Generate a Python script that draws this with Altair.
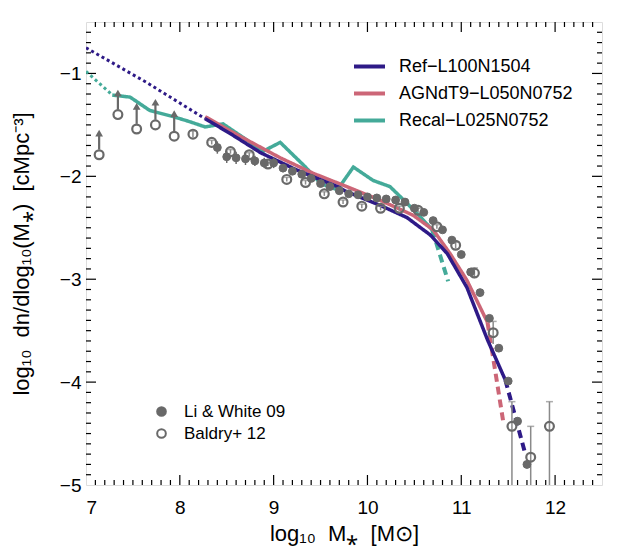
import altair as alt
import pandas as pd

# ---------------- data ----------------
sim_names = ["Ref\u2212L100N1504", "AGNdT9\u2212L050N0752", "Recal\u2212L025N0752"]
sim_colors = ["#2E1A87", "#CC6677", "#44AA99"]

# Ref-L100N1504
ref_low_x = [7.0, 7.65, 8.27]
ref_low_y = [-0.75, -1.09, -1.44]
ref_x = [8.27, 8.53, 8.86, 9.25, 9.68, 9.78, 10.13, 10.42, 10.67, 10.85, 11.06, 11.28, 11.47]
ref_y = [-1.44, -1.58, -1.77, -1.94, -2.10, -2.15, -2.28, -2.40, -2.57, -2.75, -3.08, -3.59, -3.98]
ref_high_x = [11.47, 11.68]
ref_high_y = [-3.98, -4.69]

# AGNdT9-L050N0752
agn_x = [8.27, 8.60, 9.07, 9.42, 9.78, 10.13, 10.49, 10.70, 10.88, 11.06, 11.28]
agn_y = [-1.42, -1.59, -1.82, -1.97, -2.10, -2.23, -2.38, -2.52, -2.75, -3.01, -3.42]
agn_high_x = [11.28, 11.45]
agn_high_y = [-3.42, -4.40]

# Recal-L025N0752
rec_low_x = [7.0, 7.28]
rec_low_y = [-0.98, -1.21]
rec_x = [7.28, 7.47, 7.68, 7.93, 8.11, 8.27, 8.46, 8.72, 8.88, 9.07, 9.34, 9.50,
         9.68, 9.85, 10.06, 10.24, 10.42, 10.56, 10.69]
rec_y = [-1.21, -1.23, -1.36, -1.42, -1.47, -1.52, -1.49, -1.65, -1.76, -1.67, -1.91, -2.07,
         -2.13, -1.91, -2.04, -2.10, -2.26, -2.39, -2.52]
rec_high_x = [10.69, 10.86]
rec_high_y = [-2.52, -3.02]

# Li & White 09 (filled)
li_x = [8.4, 8.5, 8.6, 8.7, 8.8, 8.9, 9.0, 9.1, 9.2, 9.3, 9.4, 9.5, 9.6, 9.7, 9.8, 9.9,
        10.0, 10.1, 10.2, 10.3, 10.4, 10.5, 10.6, 10.7, 10.8, 10.9, 11.0, 11.1, 11.2,
        11.3, 11.4, 11.5, 11.6, 11.7]
li_y = [-1.72, -1.81, -1.82, -1.83, -1.85, -1.87, -1.87, -1.92, -1.95, -1.98, -2.02, -2.07,
        -2.10, -2.14, -2.17, -2.18, -2.20, -2.21, -2.22, -2.23, -2.25, -2.31, -2.35, -2.43,
        -2.52, -2.62, -2.76, -2.93, -3.13, -3.38, -3.67, -3.99, -4.38, -4.80]
li_err = [0.06, 0.06, 0.06, 0.06, 0.05, 0.05, 0.05, 0.04, 0.03, 0.03, 0.02, 0.02,
          0.02, 0.02, 0.02, 0.02, 0.02, 0.02, 0.02, 0.02, 0.02, 0.02, 0.02, 0.02,
          0.02, 0.02, 0.02, 0.02, 0.02, 0.02, 0.02, 0.02, 0.03, 0.04]

# Baldry+ 12 (open)
bal_x = [7.14, 7.34, 7.54, 7.74, 7.94, 8.14, 8.34, 8.54, 8.74, 8.94, 9.14, 9.34, 9.54,
         9.74, 9.94, 10.14, 10.34, 10.54, 10.74, 10.94, 11.14, 11.34, 11.54, 11.74, 11.94]
bal_y = [-1.79, -1.40, -1.54, -1.50, -1.61, -1.59, -1.67, -1.76, -1.79, -1.88, -2.03, -2.06,
         -2.17, -2.25, -2.29, -2.31, -2.31, -2.33, -2.49, -2.67, -2.94, -3.52, -4.43, -4.73, -4.43]
bal_err_lo = [0, 0, 0, 0, 0, 0.03, 0.02, 0.02, 0.02, 0.02, 0.02, 0.02, 0.02,
              0.02, 0.02, 0.02, 0.02, 0.02, 0.02, 0.03, 0.05, 0.11, 0.8, 0.8, 0.8]
bal_err_hi = [0, 0, 0, 0, 0, 0.03, 0.02, 0.02, 0.02, 0.02, 0.02, 0.02, 0.02,
              0.02, 0.02, 0.02, 0.02, 0.02, 0.02, 0.03, 0.05, 0.11, 0.24, 0.30, 0.24]
# lower limits (arrows) for the five lowest-mass Baldry points
lim_x = [7.14, 7.34, 7.54, 7.74, 7.94]
lim_y = [-1.79, -1.40, -1.54, -1.50, -1.61]
lim_top = [-1.58, -1.19, -1.32, -1.28, -1.39]

obs_names = ["Li & White 09", "Baldry+ 12"]

x_ticks = [7, 8, 9, 10, 11, 12]
y_ticks = [-5, -4, -3, -2, -1]
x_minor = [round(7 + 0.1 * i, 1) for i in range(1, 55) if i % 10]
x_major = [8, 9, 10, 11, 12]
y_minor = [round(-5 + 0.1 * i, 1) for i in range(1, 45) if i % 10]
y_major = [-4, -3, -2, -1]

x_title = "log\u2081\u2080\u00a0 M\u204e\u00a0 [M\u2299]"
y_title = "log\u2081\u2080\u00a0 dn/dlog\u2081\u2080(M\u204e)\u00a0 [cMpc\u207b\u00b3]"

# ---------------- build tables ----------------
def seg_df(xs, ys, name, seg):
    return pd.DataFrame({"x": xs, "y": ys, "sim": name, "seg": seg})

ref_df = pd.concat([seg_df(ref_low_x, ref_low_y, sim_names[0], "low"),
                    seg_df(ref_x, ref_y, sim_names[0], "mid"),
                    seg_df(ref_high_x, ref_high_y, sim_names[0], "high")])
agn_df = pd.concat([seg_df(agn_x, agn_y, sim_names[1], "mid"),
                    seg_df(agn_high_x, agn_high_y, sim_names[1], "high")])
rec_df = pd.concat([seg_df(rec_low_x, rec_low_y, sim_names[2], "low"),
                    seg_df(rec_x, rec_y, sim_names[2], "mid"),
                    seg_df(rec_high_x, rec_high_y, sim_names[2], "high")])

li_df = pd.DataFrame({"x": li_x, "y": li_y,
                      "lo": [a - e for a, e in zip(li_y, li_err)],
                      "hi": [a + e for a, e in zip(li_y, li_err)],
                      "obs": obs_names[0]})
bal_df = pd.DataFrame({"x": bal_x, "y": bal_y,
                       "lo": [a - e for a, e in zip(bal_y, bal_err_lo)],
                       "hi": [a + e for a, e in zip(bal_y, bal_err_hi)],
                       "obs": obs_names[1]})
bal_err_df = bal_df[[e > 0 for e in bal_err_lo]]
lim_df = pd.DataFrame({"x": lim_x, "y0": [v + 0.05 for v in lim_y], "top": lim_top})

W, H = 516, 463
GREY = "#696969"
FONT = "Liberation Sans"

xscale = alt.Scale(domain=[7, 12.5], nice=False, zero=False)
yscale = alt.Scale(domain=[-5, -0.5], nice=False, zero=False)

X = alt.X("x:Q", scale=xscale,
          axis=alt.Axis(values=x_ticks, format="d", ticks=False, domain=False, grid=False,
                        labelFontSize=19, labelPadding=13, labelColor="black", labelFont=FONT,
                        title=x_title, titleFontSize=22,
                        titleFont=FONT, titleFontWeight="normal", titleColor="black",
                        titlePadding=6))
Y = alt.Y("y:Q", scale=yscale,
          axis=alt.Axis(values=y_ticks, format="d", ticks=False, domain=False, grid=False,
                        labelFontSize=19, labelPadding=5, labelColor="black", labelFont=FONT,
                        title=y_title,
                        titleFontSize=22, titleFont=FONT, titleFontWeight="normal",
                        titleColor="black", titlePadding=26))

color = alt.Color("sim:N", scale=alt.Scale(domain=sim_names, range=sim_colors),
                  legend=alt.Legend(orient="none", legendX=266, legendY=27, title=None,
                                    symbolType="stroke", symbolStrokeWidth=4, symbolSize=961,
                                    labelFontSize=18, labelFont=FONT, labelColor="black",
                                    labelLimit=400, labelOffset=12, rowPadding=-1.5, padding=0))
dash = alt.StrokeDash("seg:N", scale=alt.Scale(domain=["low", "mid", "high"],
                                               range=[[3, 3], [1, 0], [8, 5]]), legend=None)
width_enc = alt.Size("seg:N", scale=alt.Scale(domain=["low", "mid", "high"], range=[3, 4, 3.5]),
                     legend=None)


def line_layer(df):
    return alt.Chart(df).mark_line(clip=True).encode(
        x=X, y=Y, color=color, strokeDash=dash, size=width_enc, detail="seg:N",
        order="x:Q")

fill = alt.Fill("obs:N", scale=alt.Scale(domain=obs_names, range=[GREY, "transparent"]),
                legend=alt.Legend(orient="none", legendX=67, legendY=381, title=None,
                                  symbolType="circle", symbolSize=75, symbolStrokeColor=GREY,
                                  symbolStrokeWidth=2, labelFontSize=17, labelFont=FONT,
                                  labelColor="black", labelOffset=14, rowPadding=4, padding=0))

# inward ticks on all four sides
def xt(vals):
    return pd.DataFrame({"x": vals})

def yt(vals):
    return pd.DataFrame({"y": vals})

tick_style = dict(color="black", strokeWidth=1.2)
ticks = [
    alt.Chart(xt(x_minor)).mark_rule(**tick_style).encode(x=X, y=alt.value(H), y2=alt.value(H - 5)),
    alt.Chart(xt(x_major)).mark_rule(**tick_style).encode(x=X, y=alt.value(H), y2=alt.value(H - 10)),
    alt.Chart(xt(x_minor)).mark_rule(**tick_style).encode(x=X, y=alt.value(0), y2=alt.value(5)),
    alt.Chart(xt(x_major)).mark_rule(**tick_style).encode(x=X, y=alt.value(0), y2=alt.value(10)),
    alt.Chart(yt(y_minor)).mark_rule(**tick_style).encode(y=Y, x=alt.value(0), x2=alt.value(5)),
    alt.Chart(yt(y_major)).mark_rule(**tick_style).encode(y=Y, x=alt.value(0), x2=alt.value(10)),
    alt.Chart(yt(y_minor)).mark_rule(**tick_style).encode(y=Y, x=alt.value(W), x2=alt.value(W - 5)),
    alt.Chart(yt(y_major)).mark_rule(**tick_style).encode(y=Y, x=alt.value(W), x2=alt.value(W - 10)),
]

li_err_layer = alt.Chart(li_df).mark_rule(color=GREY, strokeWidth=1.5).encode(
    x=X, y=alt.Y("lo:Q", scale=yscale), y2="hi:Q")
bal_err_layer = alt.Chart(bal_err_df).mark_rule(color="#8a8a8a", strokeWidth=1.5, clip=True).encode(
    x=X, y=alt.Y("lo:Q", scale=yscale), y2="hi:Q")
bal_cap_layer = alt.Chart(bal_err_df).mark_tick(color="#8a8a8a", orient="horizontal", size=7,
                                                thickness=1.5, clip=True).encode(
    x=X, y=alt.Y("hi:Q", scale=yscale))
lim_shaft = alt.Chart(lim_df).mark_rule(color=GREY, strokeWidth=2.2).encode(
    x=X, y=alt.Y("y0:Q", scale=yscale), y2="top:Q")
lim_head = alt.Chart(lim_df).mark_point(shape="triangle-up", filled=True, color=GREY, size=60,
                                        opacity=1).encode(
    x=X, y=alt.Y("top:Q", scale=yscale))

li_pts = alt.Chart(li_df).mark_point(filled=True, shape="circle", size=62, stroke=GREY,
                                     strokeWidth=1, opacity=1).encode(x=X, y=Y, fill=fill)
bal_pts = alt.Chart(bal_df).mark_point(filled=True, shape="circle", size=78, stroke=GREY,
                                       strokeWidth=2.2, opacity=1, clip=True).encode(x=X, y=Y, fill=fill)

chart = alt.layer(
    *ticks,
    line_layer(rec_df), line_layer(agn_df), line_layer(ref_df),
    li_err_layer, bal_err_layer, bal_cap_layer, lim_shaft, lim_head,
    li_pts, bal_pts,
).properties(
    width=W, height=H, autosize="none",
    padding={"left": 78, "top": 14, "right": 30, "bottom": 68},
).configure_view(stroke="black", strokeWidth=1.5).configure(background="white")

chart.save("out.html", embed_options={"renderer": "svg", "actions": False})
